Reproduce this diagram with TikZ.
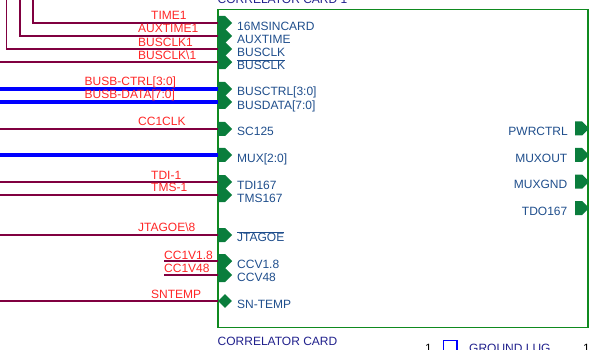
\documentclass[tikz,border=0pt]{standalone}
\usepackage{fontspec}
\setmainfont{Liberation Sans}
\usetikzlibrary{shapes.geometric, shapes.symbols}
\definecolor{cardgreen}{HTML}{0F8A1F}
\definecolor{pingreen}{HTML}{0A7D3C}
\definecolor{wirered}{HTML}{800040}
\definecolor{netred}{HTML}{FF2626}
\definecolor{pinblue}{HTML}{1F4E8C}
\definecolor{cardnavy}{HTML}{20208C}
\tikzstyle{pinin} = [signal, signal to=east, fill=pingreen, inner sep=0pt, anchor=west,
minimum width=14pt,
minimum height=14pt]
\tikzstyle{pindiamond} = [diamond, fill=pingreen, inner sep=0pt, minimum size=14pt]
\tikzstyle{anytext} = [inner sep=0pt, font=\fontsize{12}{13}\selectfont]
\tikzstyle{pinname} = [anytext, anchor=base west, text=pinblue]
\tikzstyle{pinnameleft} = [anytext, anchor=base east, text=pinblue]
\tikzstyle{netname} = [anytext, anchor=base west, text=netred]
\tikzstyle{cardname} = [anytext, anchor=base west, text=cardnavy]
\tikzstyle{wire} = [line width=1.7pt, wirered]
\tikzstyle{bus} = [line width=4pt, blue]

\begin{document}
\begin{tikzpicture}[x=1pt,y=-1pt]
        \useasboundingbox (0,0) rectangle (589,350);
        \node (card) [draw=cardgreen, line width=1.3pt, inner sep=0pt, minimum width=370pt, minimum height=318pt] at (403,168.3) {};
        \node (cardtop) [cardname] at (217.5,4) {CORRELATOR CARD 1};
        \node (cardbot) [cardname] at (217.5,345) {CORRELATOR CARD};
        % left pins
        \node (ptime) [pinin] at (218,23) {};
        \node (paux) [pinin] at (218,36) {};
        \node (pclk) [pinin] at (218,49) {};
        \node (pclkn) [pinin] at (218,62.2) {};
        \node (pctrl) [pinin] at (218,89) {};
        \node (pdata) [pinin] at (218,102) {};
        \node (psc) [pinin] at (218,129) {};
        \node (pmux) [pinin] at (218,155) {};
        \node (ptdi) [pinin] at (218,182) {};
        \node (ptms) [pinin] at (218,195) {};
        \node (pjtag) [pinin] at (218,235) {};
        \node (pvcc) [pinin] at (218,261.2) {};
        \node (pvccb) [pinin] at (218,275) {};
        \node (psn) [pindiamond] at (225,301) {};
        % right pins
        \node (ppwr) [pinin] at (575,128.5) {};
        \node (pmuxo) [pinin] at (575,155) {};
        \node (pmuxg) [pinin] at (575,181.7) {};
        \node (ptdo) [pinin] at (575,208) {};
        % free wire ends
        \coordinate (endtime) at (33,0);
        \coordinate (endaux) at (20,0);
        \coordinate (endclk) at (6.5,0);
        \coordinate (endclkn) at (0,62.2);
        \coordinate (endctrl) at (0,89);
        \coordinate (enddata) at (0,102);
        \coordinate (endsc) at (0,129);
        \coordinate (endmux) at (0,155);
        \coordinate (endtdi) at (0,182);
        \coordinate (endtms) at (0,195);
        \coordinate (endjtag) at (0,235);
        \coordinate (endvcc) at (164,261.2);
        \coordinate (endvccb) at (164,275);
        \coordinate (endsn) at (0,301);
        \draw [wire] (endtime) |- (ptime.west);
        \draw [wire] (endaux) |- (paux.west);
        \draw [wire] (endclk) |- (pclk.west);
        \draw [wire] (endclkn) -- (pclkn.west);
        \draw [bus] (endctrl) -- (pctrl.west);
        \draw [bus] (enddata) -- (pdata.west);
        \draw [wire] (endsc) -- (psc.west);
        \draw [bus] (endmux) -- (pmux.west);
        \draw [wire] (endtdi) -- (ptdi.west);
        \draw [wire] (endtms) -- (ptms.west);
        \draw [wire] (endjtag) -- (pjtag.west);
        \draw [wire] (endvcc) -- (pvcc.west);
        \draw [wire] (endvccb) -- (pvccb.west);
        \draw [wire] (endsn) -- (psn.west);
        % net names
        \node (ntime) [netname] at (151,20) {TIME1};
        \node (naux) [netname] at (138,33) {AUXTIME1};
        \node (nclk) [netname] at (138,47) {BUSCLK1};
        \node (nclkn) [netname] at (138,60) {BUSCLK\textbackslash 1};
        \node (nctrl) [netname] at (84.5,85.7) {BUSB-CTRL[3:0]};
        \node (ndata) [netname] at (84.5,98.3) {BUSB-DATA[7:0]};
        \node (nsc) [netname] at (138,125.7) {CC1CLK};
        \node (ntdi) [netname] at (151,179) {TDI-1};
        \node (ntms) [netname] at (151,191.7) {TMS-1};
        \node (njtag) [netname] at (138,231.7) {JTAGOE\textbackslash 8};
        \node (nvcc) [netname] at (164,259) {CC1V1.8};
        \node (nvccb) [netname] at (164,272.7) {CC1V48};
        \node (nsn) [netname] at (151,298.3) {SNTEMP};
        % pin names
        \node (ltime) [pinname] at (237,30.6) {16MSINCARD};
        \node (laux) [pinname] at (237,43.3) {AUXTIME};
        \node (lclk) [pinname] at (237,56.6) {BUSCLK};
        \node (lclkn) [pinname] at (237,69.9) {$\overline{\mbox{BUSCLK}}$};
        \node (lctrl) [pinname] at (237,96) {BUSCTRL[3:0]};
        \node (ldata) [pinname] at (237,109.3) {BUSDATA[7:0]};
        \node (lsc) [pinname] at (237,136) {SC125};
        \node (lmux) [pinname] at (237,162) {MUX[2:0]};
        \node (ltdi) [pinname] at (237,189.6) {TDI167};
        \node (ltms) [pinname] at (237,202.3) {TMS167};
        \node (ljtag) [pinname] at (237,241.5) {$\overline{\mbox{JTAGOE}}$};
        \node (lvcc) [pinname] at (237,268) {CCV1.8};
        \node (lvccb) [pinname] at (237,281) {CCV48};
        \node (lsn) [pinname] at (237,308.2) {SN-TEMP};
        \node (lpwr) [pinnameleft] at (568,136) {PWRCTRL};
        \node (lmuxo) [pinnameleft] at (567.5,162) {MUXOUT};
        \node (lmuxg) [pinnameleft] at (567.5,189) {MUXGND};
        \node (ltdo) [pinnameleft] at (567.5,215) {TDO167};
        % ground lug row, cut off by the page
        \node (lugnuma) [anytext, anchor=base east] at (432,352) {1};
        \node (lugbox) [draw=blue, line width=1.3pt, inner sep=0pt, minimum size=13.5pt] at (450.2,347.5) {};
        \node (lugname) [cardname] at (469,352) {GROUND LUG};
        \node (lugnumb) [anytext, anchor=base west] at (583,352) {1};
    \end{tikzpicture}
\end{document}
